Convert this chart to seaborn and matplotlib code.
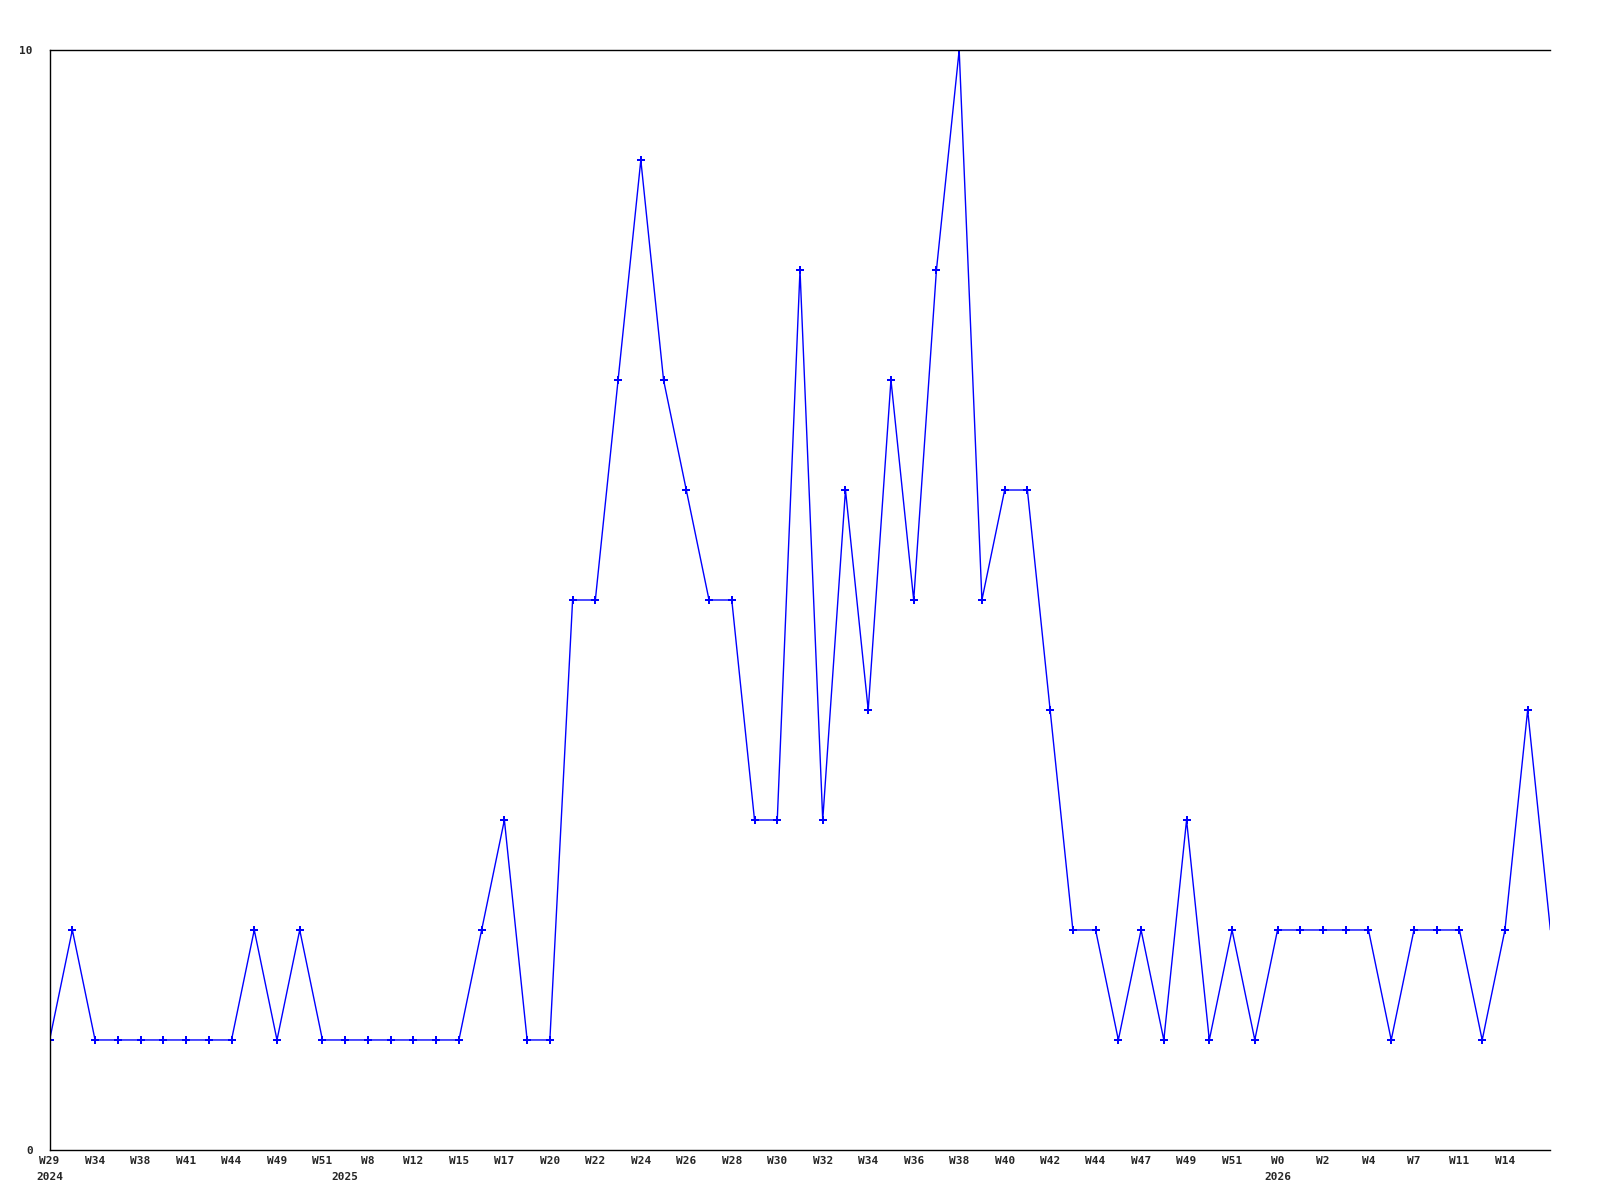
import seaborn as sns
import matplotlib.pyplot as plt
import pandas as pd
import numpy as np

# weekly counts, one per week starting 2024 W29
counts = [1, 2, 1, 1, 1, 1, 1, 1, 1, 2, 1, 2, 1, 1, 1, 1, 1, 1, 1, 2,
          3, 1, 1, 5, 5, 7, 9, 7, 6, 5, 5, 3, 3, 8, 3, 6, 4, 7, 5, 8,
          10, 5, 6, 6, 4, 2, 2, 1, 2, 1, 3, 1, 2, 1, 2, 2, 2, 2, 2, 1,
          2, 2, 2, 1, 2, 4, 2]

# labels shown under every second point
week_labels = ['W29', 'W34', 'W38', 'W41', 'W44', 'W49', 'W51', 'W8', 'W12',
               'W15', 'W17', 'W20', 'W22', 'W24', 'W26', 'W28', 'W30', 'W32',
               'W34', 'W36', 'W38', 'W40', 'W42', 'W44', 'W47', 'W49', 'W51',
               'W0', 'W2', 'W4', 'W7', 'W11', 'W14']
year_ticks = [0, 13, 54]
year_labels = ['2024', '2025', '2026']

df = pd.DataFrame({'idx': np.arange(len(counts)), 'count': counts})

sns.set_style('white')
plt.rcParams['font.family'] = ['DejaVu Sans Mono']

fig = plt.figure(figsize=(16, 12), dpi=100)
ax = fig.add_axes([0.031, 0.0417, 0.938, 0.9166])

sns.lineplot(data=df, x='idx', y='count', ax=ax, color='#0000ff', lw=1,
             marker='P', markersize=6, markeredgewidth=0,
             markevery=list(range(len(counts) - 1)))

ax.set_xlim(0, len(counts) - 1)
ax.set_ylim(0, 10)
ax.set_yticks([0, 10])
ax.set_yticklabels(['0', '10'], fontsize=8, fontweight='bold')

tick_pos = list(range(0, 2 * len(week_labels), 2))
ax.set_xticks(tick_pos)
ax.set_xticklabels(week_labels, fontsize=8, fontweight='bold')
ax.tick_params(axis='both', length=0, pad=4)
ax.tick_params(axis='y', pad=12)

# year labels on a second line
for pos, yr in zip(year_ticks, year_labels):
    ax.annotate(yr, xy=(pos, 0), xycoords=('data', 'axes fraction'),
                xytext=(0, -16), textcoords='offset points',
                ha='center', va='top', fontsize=8, fontweight='bold')

ax.set_xlabel('')
ax.set_ylabel('')
ax.spines['right'].set_visible(False)
for s in ['left', 'bottom', 'top']:
    ax.spines[s].set_color('black')
    ax.spines[s].set_linewidth(1)

fig.savefig('out.png', dpi=100)
